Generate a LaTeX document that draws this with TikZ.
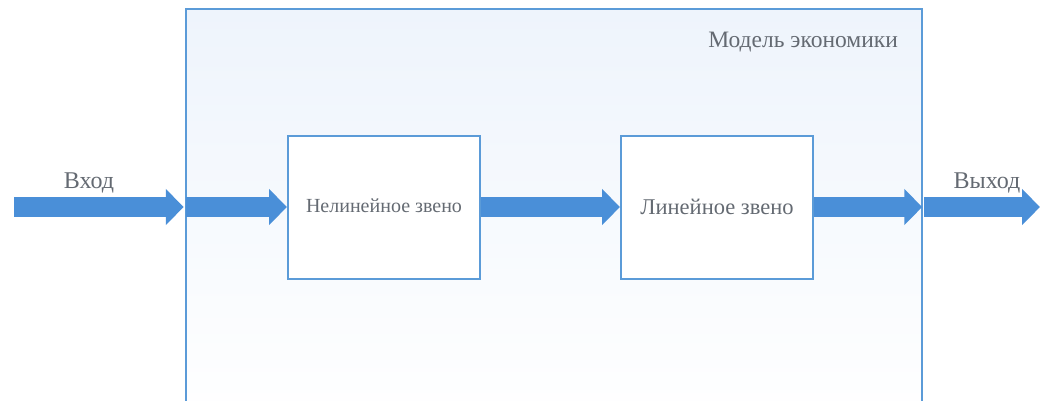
\documentclass[tikz,border=0pt]{standalone}
\usepackage{fontspec}
\setmainfont{Liberation Serif}
\usetikzlibrary{arrows.meta}
\definecolor{flow}{HTML}{4A8FD8}
\definecolor{frame}{HTML}{5B9BD8}
\definecolor{ink}{HTML}{646A72}
\definecolor{haze}{HTML}{EEF4FC}
\tikzset{
  blk/.style={draw=frame, line width=2pt, fill=white, minimum width=192pt, minimum height=143pt, inner sep=0pt},
  flowarrow/.style={draw=flow, line width=20pt, -{Triangle[width=35pt,length=18pt]}},
  lbl/.style={text=ink, inner sep=0pt}
}
\begin{document}
\begin{tikzpicture}[x=1pt,y=-1pt]
\useasboundingbox (0,0) rectangle (1040,400);
\clip (0,0) rectangle (1040,400);
\fill[white] (0,0) rectangle (1040,400);
% outer model frame, runs past the lower edge
\node[draw=frame, line width=2.5pt, top color=haze, bottom color=white, minimum width=736pt, minimum height=420pt, inner sep=0pt] (model) at (554,219) {};
\node[lbl, anchor=base east, font=\fontsize{23.5}{26}\selectfont] (title) at (898,47) {Модель экономики};
% the two links
\node[blk] (nl) at (384,207) {};
\node[blk] (lin) at (717,207) {};
\node[lbl, anchor=base, font=\fontsize{20}{22}\selectfont] (nltext) at (384,212) {Нелинейное звено};
\node[lbl, anchor=base, font=\fontsize{22.5}{25}\selectfont] (lintext) at (717,214) {Линейное звено};
% free ends of the signal path
\coordinate (src) at (14,207);
\coordinate (dst) at (1040,207);
\coordinate (mw) at (model.west |- nl.center);
\coordinate (me) at (model.east |- nl.center);
\draw[flowarrow] (src) -- ([xshift=-1pt]mw);
\draw[flowarrow] ([xshift=1pt]mw) -- (nl.west);
\draw[flowarrow] (nl.east) -- (lin.west);
\draw[flowarrow] (lin.east) -- ([xshift=-1pt]me);
\draw[flowarrow] ([xshift=1pt]me) -- (dst);
% input / output labels
\node[lbl, anchor=base, font=\fontsize{24}{26}\selectfont] (inlbl) at (89,188) {Вход};
\node[lbl, anchor=base, font=\fontsize{24}{26}\selectfont] (outlbl) at (987,188) {Выход};
\end{tikzpicture}
\end{document}
